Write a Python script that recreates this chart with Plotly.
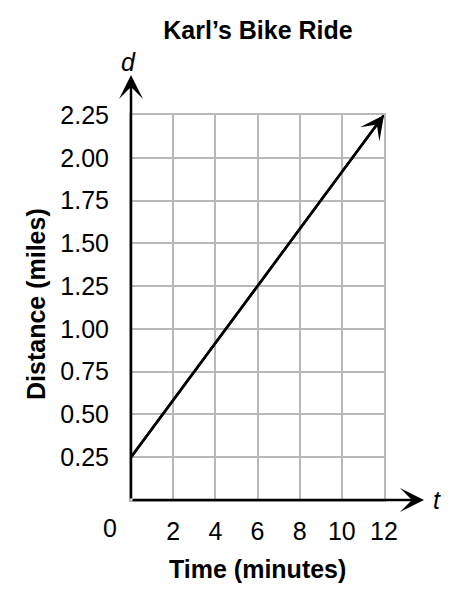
import plotly.graph_objects as go

# Data
time_min = [0, 12]
distance_mi = [0.25, 2.25]

x_tickvals = [2, 4, 6, 8, 10, 12]
x_ticktext = ["2", "4", "6", "8", "10", "12"]
y_tickvals = [0.25, 0.5, 0.75, 1.0, 1.25, 1.5, 1.75, 2.0, 2.25]
y_ticktext = ["0.25", "0.50", "0.75", "1.00", "1.25", "1.50", "1.75", "2.00", "2.25"]

title_text = "Karl’s Bike Ride"
x_title = "Time (minutes)"
y_title = "Distance (miles)"

FONT = "Liberation Sans, Arial, Helvetica, sans-serif"
OFF = 8  # default page body margin
PW, PH = 454, 602
W, H = PW - OFF, PH - OFF
# plot area in page pixels
X0, X1, Y0, Y1 = 131, 384, 115, 500
L, R, T, B = X0 - OFF, PW - X1, Y0 - OFF, PH - Y1
pw, ph = X1 - X0, Y1 - Y0


def px(xp):
    return (xp - X0) / pw


def py(yp):
    return (Y1 - yp) / ph


arrow = dict(showarrow=True, arrowhead=3, arrowwidth=2.5, arrowsize=1.6,
             arrowcolor="black", text="")
lbl = dict(family=FONT, size=25, color="black")

fig = go.Figure()
fig.add_trace(go.Scatter(
    x=time_min, y=distance_mi, mode="lines",
    line=dict(color="black", width=2.5), showlegend=False, hoverinfo="skip",
))

annotations = [
    dict(x=time_min[-1], y=distance_mi[-1], ax=time_min[0], ay=distance_mi[0],
         xref="x", yref="y", axref="x", ayref="y", **arrow),
    dict(x=px(424), y=0, xref="paper", yref="paper", ax=-(424 - X0), ay=0, **arrow),
    dict(x=0, y=py(75), xref="paper", yref="paper", ax=0, ay=Y1 - 75, **arrow),
    dict(x=px(437), y=py(500), xref="paper", yref="paper", text="<i>t</i>",
         showarrow=False, xanchor="center", yanchor="middle", font=lbl),
    dict(x=px(128), y=py(62), xref="paper", yref="paper", text="<i>d</i>",
         showarrow=False, xanchor="center", yanchor="middle", font=lbl),
    dict(x=px(110), y=py(528), xref="paper", yref="paper", text="0",
         showarrow=False, xanchor="center", yanchor="middle", font=lbl),
    dict(x=px(257), y=py(569), xref="paper", yref="paper", text="<b>%s</b>" % x_title,
         showarrow=False, xanchor="center", yanchor="middle", font=lbl),
    dict(x=px(36), y=py(304), xref="paper", yref="paper", text="<b>%s</b>" % y_title,
         textangle=-90, showarrow=False, xanchor="center", yanchor="middle", font=lbl),
]

axis_common = dict(showgrid=True, gridcolor="#b8b8b8", gridwidth=2,
                   zeroline=False, showline=True, linecolor="#b8b8b8", linewidth=2,
                   mirror=True, ticks="", tickfont=lbl, fixedrange=True)

fig.update_layout(
    width=W, height=H,
    margin=dict(l=L, r=R, t=T, b=B, autoexpand=False),
    paper_bgcolor="white", plot_bgcolor="white",
    title=dict(text="<b>%s</b>" % title_text, x=(258 - OFF) / W, xanchor="center",
               y=1 - (30 - OFF) / H, yanchor="middle", yref="container",
               font=dict(family=FONT, size=25, color="black")),
    xaxis=dict(range=[0, 12], tickvals=x_tickvals, ticktext=x_ticktext,
               ticklabelstandoff=8, **axis_common),
    yaxis=dict(range=[0, 2.25], tickvals=y_tickvals, ticktext=y_ticktext,
               ticklabelstandoff=15, **axis_common),
    annotations=annotations,
)

fig.write_html("out.html")
